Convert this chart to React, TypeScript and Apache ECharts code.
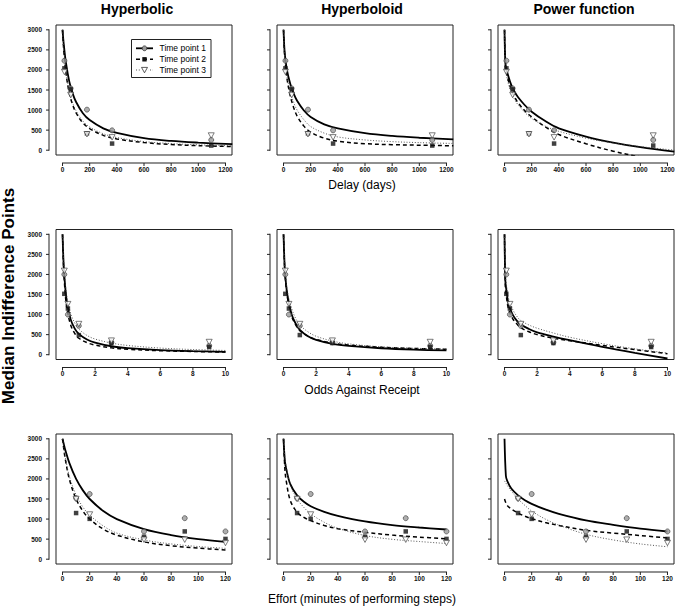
import React, { useEffect, useRef } from "react";
import * as echarts from "echarts";

const W = 676;
const H = 607;
const FONT = "'Liberation Sans', Arial, Helvetica, sans-serif";

// ---- texts ----
const modelTitles = ["Hyperbolic", "Hyperboloid", "Power function"];
const rowAxisTitles = ["Delay (days)", "Odds Against Receipt", "Effort (minutes of performing steps)"];
const yAxisTitle = "Median Indifference Points";
const legendNames = ["Time point 1", "Time point 2", "Time point 3"];

// ---- tick labels ----
const yTicks = [0, 500, 1000, 1500, 2000, 2500, 3000];
const delayTicks = [0, 200, 400, 600, 800, 1000, 1200];
const oddsTicks = [0, 2, 4, 6, 8, 10];
const effortTicks = [0, 20, 40, 60, 80, 100, 120];

// ---- observed medians ----
const delayX = [14, 60, 180, 365, 1095];
const delayTP1 = [2230, 1540, 1010, 495, 255];
const delayTP2 = [2040, 1515, 420, 165, 115];
const delayTP3 = [1950, 1375, 397, 320, 365];

const oddsX = [0.11, 0.33, 1, 3, 9];
const oddsTP1 = [2000, 1000, 720, 307, 224];
const oddsTP2 = [1517, 1150, 489, 290, 190];
const oddsTP3 = [2089, 1260, 763, 350, 315];

const effortX = [10, 20, 60, 90, 120];
const effortTP1 = [1520, 1624, 692, 1022, 692];
const effortTP2 = [1150, 1005, 560, 692, 505];
const effortTP3 = [1500, 1113, 486, 486, 404];

// ---- fitted curves ----
const delayCurveX = [0, 5, 10, 25, 50, 75, 100, 150, 200, 300, 400, 600, 800, 1000, 1250];
const delayHyperbolicTP1 = [3000, 2790, 2610, 2180, 1710, 1410, 1200, 920, 750, 545, 430, 300, 230, 188, 150];
const delayHyperbolicTP2 = [3000, 2700, 2450, 1930, 1420, 1130, 930, 680, 540, 370, 280, 190, 142, 113, 90];
const delayHyperbolicTP3 = [3000, 2720, 2480, 1960, 1470, 1180, 980, 725, 580, 410, 315, 215, 165, 134, 108];
const delayHyperboloidTP1 = [3000, 2620, 2380, 2000, 1650, 1410, 1230, 990, 830, 645, 545, 425, 355, 310, 268];
const delayHyperboloidTP2 = [3000, 2580, 2300, 1800, 1350, 1060, 850, 600, 450, 300, 225, 162, 138, 124, 110];
const delayHyperboloidTP3 = [3000, 2560, 2280, 1850, 1450, 1190, 1000, 760, 590, 425, 330, 255, 213, 188, 168];
const delayPowerTP1 = [3000, 2250, 2080, 1880, 1620, 1450, 1320, 1120, 960, 725, 545, 340, 190, 75, -35];
const delayPowerTP2 = [3000, 2170, 2000, 1780, 1500, 1320, 1180, 980, 830, 580, 390, 160, -25, -170, -330];
const delayPowerTP3 = [3000, 2120, 1950, 1700, 1430, 1260, 1130, 940, 790, 600, 470, 300, 180, 90, 0];

const oddsCurveX = [0, 0.05, 0.1, 0.25, 0.5, 0.75, 1, 1.5, 2, 3, 4, 6, 8, 10];
const oddsHyperbolicTP1 = [3000, 2420, 2030, 1360, 880, 650, 520, 380, 300, 210, 165, 115, 88, 72];
const oddsHyperbolicTP2 = [3000, 2330, 1900, 1200, 740, 530, 410, 300, 240, 170, 135, 100, 80, 65];
const oddsHyperbolicTP3 = [3000, 2520, 2150, 1500, 1030, 790, 640, 480, 390, 290, 230, 165, 128, 105];
const oddsHyperboloidTP1 = [3000, 2400, 2000, 1450, 1000, 770, 620, 460, 370, 270, 220, 160, 125, 105];
const oddsHyperboloidTP2 = [3000, 2360, 1950, 1400, 960, 740, 600, 460, 380, 290, 240, 185, 155, 135];
const oddsHyperboloidTP3 = [3000, 2480, 2100, 1550, 1150, 900, 740, 570, 460, 340, 270, 195, 160, 140];
const oddsPowerTP1 = [3000, 1850, 1650, 1250, 1000, 850, 750, 640, 555, 450, 360, 195, 45, -95];
const oddsPowerTP2 = [3000, 1700, 1500, 1130, 900, 770, 670, 570, 500, 410, 350, 230, 125, 25];
const oddsPowerTP3 = [3000, 2000, 1800, 1400, 1130, 960, 850, 740, 660, 540, 435, 275, 145, 40];

const effortCurveX = [0, 1, 2, 5, 10, 15, 20, 30, 40, 60, 80, 100, 120];
const effortHyperbolicTP1 = [3000, 2860, 2727, 2400, 2000, 1715, 1500, 1200, 1000, 750, 600, 500, 430];
const effortHyperbolicTP2 = [3000, 2730, 2500, 2000, 1500, 1200, 1000, 750, 600, 430, 335, 275, 232];
const effortHyperbolicTP3 = [3000, 2760, 2550, 2070, 1600, 1300, 1100, 830, 650, 480, 380, 315, 270];
const effortHyperboloidTP1 = [3000, 2450, 2250, 1870, 1590, 1430, 1320, 1180, 1080, 940, 850, 790, 740];
const effortHyperboloidTP2 = [3000, 2250, 1950, 1460, 1170, 1040, 960, 840, 760, 670, 600, 550, 510];
const effortHyperboloidTP3 = [3000, 2550, 2300, 1850, 1500, 1290, 1130, 920, 770, 590, 495, 440, 390];
const effortPowerTP1 = [3000, 2080, 1950, 1760, 1590, 1470, 1380, 1240, 1130, 965, 855, 760, 690];
const effortPowerTP2 = [1500, 1400, 1340, 1250, 1150, 1070, 1010, 915, 840, 720, 650, 590, 530];
const effortPowerTP3 = [1950, 1900, 1840, 1700, 1500, 1340, 1200, 1000, 850, 620, 480, 380, 310];

// ---- layout (pixels) ----
const boxLeft = [56, 277, 498];
const boxTop = [25, 229.5, 434];
const boxW = 176;
const boxH = 130;
const titleX = [137, 362, 584];
const rowTitleY = [185, 390, 599];
const AXIS_GAP_X = 8; // x-axis line below the box
const AXIS_GAP_Y = 7; // y-axis line left of the box
const TICK_LEN = 3;
const AXIS_COLOR = "#222";

const lineStyles = [
  { color: "#000", width: 1.8, type: "solid" },
  { color: "#000", width: 1.5, type: [4, 3] },
  { color: "#444", width: 0.9, type: [1, 1.8] },
];
const pointStyles = [
  { symbol: "circle", symbolSize: 5, symbolRotate: 0, itemStyle: { color: "#9a9a9a", borderColor: "#3a3a3a", borderWidth: 0.8 } },
  { symbol: "rect", symbolSize: 4.5, symbolRotate: 0, itemStyle: { color: "#111", borderColor: "#111", borderWidth: 0 } },
  { symbol: "triangle", symbolSize: [6, 5.5], symbolRotate: 180, itemStyle: { color: "#fff", borderColor: "#333", borderWidth: 0.8 } },
];

function buildOption() {
  const rows = [
    {
      ticks: delayTicks, ptsX: delayX, pts: [delayTP1, delayTP2, delayTP3], curveX: delayCurveX,
      curves: [
        [delayHyperbolicTP1, delayHyperbolicTP2, delayHyperbolicTP3],
        [delayHyperboloidTP1, delayHyperboloidTP2, delayHyperboloidTP3],
        [delayPowerTP1, delayPowerTP2, delayPowerTP3],
      ],
    },
    {
      ticks: oddsTicks, ptsX: oddsX, pts: [oddsTP1, oddsTP2, oddsTP3], curveX: oddsCurveX,
      curves: [
        [oddsHyperbolicTP1, oddsHyperbolicTP2, oddsHyperbolicTP3],
        [oddsHyperboloidTP1, oddsHyperboloidTP2, oddsHyperboloidTP3],
        [oddsPowerTP1, oddsPowerTP2, oddsPowerTP3],
      ],
    },
    {
      ticks: effortTicks, ptsX: effortX, pts: [effortTP1, effortTP2, effortTP3], curveX: effortCurveX,
      curves: [
        [effortHyperbolicTP1, effortHyperbolicTP2, effortHyperbolicTP3],
        [effortHyperboloidTP1, effortHyperboloidTP2, effortHyperboloidTP3],
        [effortPowerTP1, effortPowerTP2, effortPowerTP3],
      ],
    },
  ];

  const grid: any[] = [];
  const xAxis: any[] = [];
  const yAxis: any[] = [];
  const series: any[] = [];
  const graphic: any[] = [];

  const yMaxTick = yTicks[yTicks.length - 1];
  const ylo = -0.04 * yMaxTick;
  const yhi = 1.04 * yMaxTick;

  // thin filled bars used as axis lines / tick marks
  const bar = (x: number, y: number, w: number, h: number) => ({
    type: "rect", z: 30, silent: true,
    shape: { x, y, width: w, height: h },
    style: { fill: AXIS_COLOR },
  });
  const tickText = (text: string, x: number, y: number, align: string, vAlign: string) => ({
    type: "text", z: 30, silent: true, x, y,
    style: {
      text, fontSize: 6.5, fontWeight: "bold", fontFamily: FONT, fill: "#111",
      textAlign: align, align, textVerticalAlign: vAlign, verticalAlign: vAlign,
    },
  });

  rows.forEach((row, r) => {
    const xMaxTick = row.ticks[row.ticks.length - 1];
    const xlo = -0.04 * xMaxTick;
    const xhi = 1.04 * xMaxTick;
    for (let c = 0; c < 3; c++) {
      const bl = boxLeft[c];
      const bt = boxTop[r];
      // pixel span of the tick range inside the box
      const tLeft = bl + (boxW * (0 - xlo)) / (xhi - xlo);
      const tWidth = (boxW * xMaxTick) / (xhi - xlo);
      const tTop = bt + (boxH * (yhi - yMaxTick)) / (yhi - ylo);
      const tHeight = (boxH * yMaxTick) / (yhi - ylo);

      // data grid (the box)
      const gData = grid.length;
      grid.push({
        left: bl, top: bt, width: boxW, height: boxH,
        show: true, borderColor: "#222", borderWidth: 1, backgroundColor: "transparent",
      });
      const dataIdx = xAxis.length;
      xAxis.push({ gridIndex: gData, type: "value", min: xlo, max: xhi, show: false });
      yAxis.push({ gridIndex: gData, type: "value", min: ylo, max: yhi, show: false });

      // R-style detached axes
      const yLine = bt + boxH + AXIS_GAP_X;
      const xLine = bl - AXIS_GAP_Y;
      graphic.push(bar(tLeft - 0.5, yLine - 0.5, tWidth + 1, 1));
      row.ticks.forEach((v) => {
        const px = tLeft + (tWidth * v) / xMaxTick;
        graphic.push(bar(px - 0.5, yLine, 1, TICK_LEN));
        graphic.push(tickText(String(v), px, yLine + 2.5, "center", "top"));
      });
      graphic.push(bar(xLine - 0.5, tTop - 0.5, 1, tHeight + 1));
      yTicks.forEach((v) => {
        const py = tTop + tHeight - (tHeight * v) / yMaxTick;
        graphic.push(bar(xLine - TICK_LEN, py - 0.5, TICK_LEN, 1));
        if (c === 0) graphic.push(tickText(String(v), xLine - 7, py, "right", "middle"));
      });

      for (let t = 0; t < 3; t++) {
        const ys = row.curves[c][t];
        series.push({
          type: "line", name: legendNames[t], xAxisIndex: dataIdx, yAxisIndex: dataIdx,
          data: row.curveX.map((x, i) => [x, ys[i]]),
          showSymbol: false, symbol: "none", smooth: 0.35,
          lineStyle: lineStyles[t], clip: true, silent: true, z: 2,
        });
      }
      for (let t = 0; t < 3; t++) {
        const ys = row.pts[t];
        const ps = pointStyles[t];
        series.push({
          type: "scatter", name: legendNames[t], xAxisIndex: dataIdx, yAxisIndex: dataIdx,
          data: row.ptsX.map((x, i) => [x, ys[i]]),
          symbol: ps.symbol, symbolSize: ps.symbolSize, symbolRotate: ps.symbolRotate,
          itemStyle: ps.itemStyle, silent: true, z: 3,
        });
      }
    }
  });

  const txt = (text: string, x: number, y: number, size: number, weight: string, extra: any = {}) => ({
    type: "text", x, y, z: 20, ...extra,
    style: {
      text, fontSize: size, fontWeight: weight, fontFamily: FONT, fill: "#000",
      textAlign: "center", align: "center", textVerticalAlign: "middle", verticalAlign: "middle",
    },
  });

  modelTitles.forEach((t, c) => graphic.push(txt(t, titleX[c], 9, 14, "bold")));
  rowAxisTitles.forEach((t, r) => graphic.push(txt(t, 362, rowTitleY[r], 12, "normal")));
  graphic.push(txt(yAxisTitle, 8.5, 296, 17, "bold", { rotation: Math.PI / 2 }));

  // legend (panel 1)
  const lgX = 131.5, lgY = 39.5, lgW = 79.5, lgH = 38;
  const lgRows = [48.3, 59.3, 70];
  graphic.push({
    type: "rect", z: 15, shape: { x: lgX, y: lgY, width: lgW, height: lgH },
    style: { fill: "#fff", stroke: "#222", lineWidth: 1 },
  });
  lgRows.forEach((yy, t) => {
    const ls = lineStyles[t];
    graphic.push({
      type: "line", z: 16, shape: { x1: 136, y1: yy, x2: 153, y2: yy },
      style: { stroke: ls.color, lineWidth: ls.width, lineDash: ls.type === "solid" ? null : ls.type },
    });
    if (t === 0) {
      graphic.push({ type: "circle", z: 17, shape: { cx: 144.5, cy: yy, r: 2.4 }, style: { fill: "#9a9a9a", stroke: "#333", lineWidth: 0.8 } });
    } else if (t === 1) {
      graphic.push({ type: "rect", z: 17, shape: { x: 142.3, y: yy - 2.2, width: 4.4, height: 4.4 }, style: { fill: "#111" } });
    } else {
      graphic.push({ type: "rect", z: 16.5, shape: { x: 140.5, y: yy - 3, width: 8, height: 6 }, style: { fill: "#fff" } });
      graphic.push({
        type: "polygon", z: 17, shape: { points: [[141.5, yy - 2.6], [147.5, yy - 2.6], [144.5, yy + 2.8]] },
        style: { fill: "#fff", stroke: "#333", lineWidth: 0.8 },
      });
    }
    graphic.push({
      type: "text", z: 17, x: 159.5, y: yy,
      style: {
        text: legendNames[t], fontSize: 8.5, fontFamily: FONT, fill: "#000",
        textAlign: "left", align: "left", textVerticalAlign: "middle", verticalAlign: "middle",
      },
    });
  });

  return {
    animation: false,
    backgroundColor: "#fff",
    grid, xAxis, yAxis, series, graphic,
  };
}

export default function App() {
  const ref = useRef<HTMLDivElement>(null);
  useEffect(() => {
    const chart = echarts.init(ref.current as HTMLDivElement, null, { renderer: "svg" });
    chart.setOption(buildOption() as any);
    return () => chart.dispose();
  }, []);
  return (
    <div
      ref={ref}
      style={{ position: "fixed", left: 0, top: 0, width: W, height: H, background: "#fff" }}
    />
  );
}
